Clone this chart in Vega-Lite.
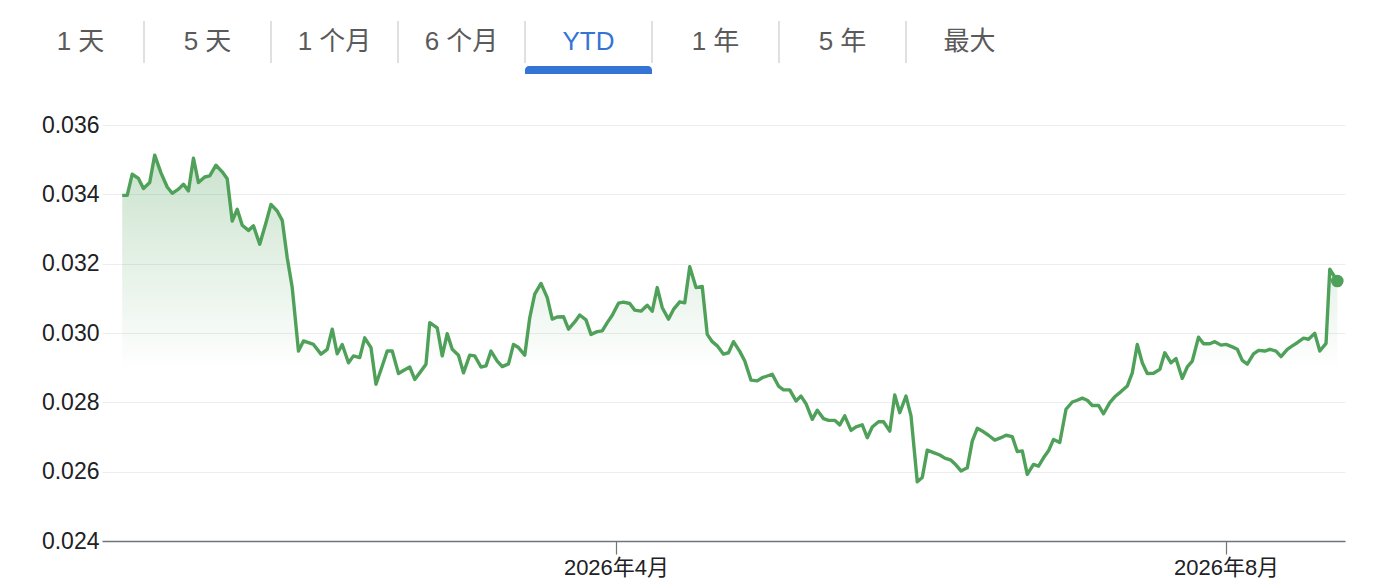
{
  "$schema": "https://vega.github.io/schema/vega-lite/v6.json",
  "background": "white",
  "padding": {"left": 12, "top": 20, "right": 31, "bottom": 4},
  "config": {
    "view": {"stroke": null},
    "font": "Liberation Sans, Noto Sans CJK SC"
  },
  "datasets": {
    "tabs": [
      {"tab": "1 天"}, {"tab": "5 天"}, {"tab": "1 个月"}, {"tab": "6 个月"},
      {"tab": "YTD"}, {"tab": "1 年"}, {"tab": "5 年"}, {"tab": "最大"}
    ],
    "rate": [
      {"date": "2025-12-23T06:00", "rate": 0.03397},
      {"date": "2025-12-24T06:00", "rate": 0.03397},
      {"date": "2025-12-25T06:00", "rate": 0.03458},
      {"date": "2025-12-26T12:00", "rate": 0.03446},
      {"date": "2025-12-27T12:00", "rate": 0.03417},
      {"date": "2025-12-28T18:00", "rate": 0.03434},
      {"date": "2025-12-29T18:00", "rate": 0.03513},
      {"date": "2025-12-31T00:00", "rate": 0.03462},
      {"date": "2026-01-01T06:00", "rate": 0.03421},
      {"date": "2026-01-02T06:00", "rate": 0.03403},
      {"date": "2026-01-03T12:00", "rate": 0.03415},
      {"date": "2026-01-04T12:00", "rate": 0.03429},
      {"date": "2026-01-05T12:00", "rate": 0.03410},
      {"date": "2026-01-06T12:00", "rate": 0.03504},
      {"date": "2026-01-07T12:00", "rate": 0.03434},
      {"date": "2026-01-08T18:00", "rate": 0.03450},
      {"date": "2026-01-09T18:00", "rate": 0.03453},
      {"date": "2026-01-11T00:00", "rate": 0.03484},
      {"date": "2026-01-12T06:00", "rate": 0.03465},
      {"date": "2026-01-13T06:00", "rate": 0.03445},
      {"date": "2026-01-14T06:00", "rate": 0.03323},
      {"date": "2026-01-15T06:00", "rate": 0.03357},
      {"date": "2026-01-16T06:00", "rate": 0.03311},
      {"date": "2026-01-17T12:00", "rate": 0.03296},
      {"date": "2026-01-18T12:00", "rate": 0.03309},
      {"date": "2026-01-19T18:00", "rate": 0.03256},
      {"date": "2026-01-21T00:00", "rate": 0.03318},
      {"date": "2026-01-22T00:00", "rate": 0.03371},
      {"date": "2026-01-23T06:00", "rate": 0.03352},
      {"date": "2026-01-24T06:00", "rate": 0.03325},
      {"date": "2026-01-25T06:00", "rate": 0.03217},
      {"date": "2026-01-26T06:00", "rate": 0.03131},
      {"date": "2026-01-27T12:00", "rate": 0.02948},
      {"date": "2026-01-28T12:00", "rate": 0.02977},
      {"date": "2026-01-29T12:00", "rate": 0.02972},
      {"date": "2026-01-30T12:00", "rate": 0.02967},
      {"date": "2026-02-01T00:00", "rate": 0.02939},
      {"date": "2026-02-02T06:00", "rate": 0.02953},
      {"date": "2026-02-03T06:00", "rate": 0.03011},
      {"date": "2026-02-04T06:00", "rate": 0.02940},
      {"date": "2026-02-05T06:00", "rate": 0.02967},
      {"date": "2026-02-06T12:00", "rate": 0.02914},
      {"date": "2026-02-07T12:00", "rate": 0.02934},
      {"date": "2026-02-08T18:00", "rate": 0.02929},
      {"date": "2026-02-09T18:00", "rate": 0.02986},
      {"date": "2026-02-11T00:00", "rate": 0.02958},
      {"date": "2026-02-12T00:00", "rate": 0.02852},
      {"date": "2026-02-13T06:00", "rate": 0.02905},
      {"date": "2026-02-14T06:00", "rate": 0.02948},
      {"date": "2026-02-15T06:00", "rate": 0.02948},
      {"date": "2026-02-16T12:00", "rate": 0.02883},
      {"date": "2026-02-17T12:00", "rate": 0.02892},
      {"date": "2026-02-18T18:00", "rate": 0.02902},
      {"date": "2026-02-19T18:00", "rate": 0.02866},
      {"date": "2026-02-21T00:00", "rate": 0.02890},
      {"date": "2026-02-22T00:00", "rate": 0.02910},
      {"date": "2026-02-22T18:00", "rate": 0.03030},
      {"date": "2026-02-24T06:00", "rate": 0.03015},
      {"date": "2026-02-25T06:00", "rate": 0.02934},
      {"date": "2026-02-26T06:00", "rate": 0.02998},
      {"date": "2026-02-27T06:00", "rate": 0.02953},
      {"date": "2026-02-28T12:00", "rate": 0.02936},
      {"date": "2026-03-01T12:00", "rate": 0.02885},
      {"date": "2026-03-02T18:00", "rate": 0.02936},
      {"date": "2026-03-03T18:00", "rate": 0.02934},
      {"date": "2026-03-05T00:00", "rate": 0.02902},
      {"date": "2026-03-06T00:00", "rate": 0.02905},
      {"date": "2026-03-07T00:00", "rate": 0.02948},
      {"date": "2026-03-08T06:00", "rate": 0.02919},
      {"date": "2026-03-09T06:00", "rate": 0.02903},
      {"date": "2026-03-10T12:00", "rate": 0.02911},
      {"date": "2026-03-11T12:00", "rate": 0.02967},
      {"date": "2026-03-12T12:00", "rate": 0.02958},
      {"date": "2026-03-13T18:00", "rate": 0.02936},
      {"date": "2026-03-14T18:00", "rate": 0.03044},
      {"date": "2026-03-15T18:00", "rate": 0.03112},
      {"date": "2026-03-17T00:00", "rate": 0.03143},
      {"date": "2026-03-18T06:00", "rate": 0.03102},
      {"date": "2026-03-19T06:00", "rate": 0.03040},
      {"date": "2026-03-20T06:00", "rate": 0.03046},
      {"date": "2026-03-21T12:00", "rate": 0.03047},
      {"date": "2026-03-22T12:00", "rate": 0.03011},
      {"date": "2026-03-23T18:00", "rate": 0.03032},
      {"date": "2026-03-24T18:00", "rate": 0.03052},
      {"date": "2026-03-26T00:00", "rate": 0.03038},
      {"date": "2026-03-27T00:00", "rate": 0.02996},
      {"date": "2026-03-28T06:00", "rate": 0.03004},
      {"date": "2026-03-29T06:00", "rate": 0.03006},
      {"date": "2026-03-30T06:00", "rate": 0.03030},
      {"date": "2026-03-31T06:00", "rate": 0.03051},
      {"date": "2026-04-01T12:00", "rate": 0.03086},
      {"date": "2026-04-02T12:00", "rate": 0.03089},
      {"date": "2026-04-03T18:00", "rate": 0.03085},
      {"date": "2026-04-04T18:00", "rate": 0.03066},
      {"date": "2026-04-06T00:00", "rate": 0.03063},
      {"date": "2026-04-07T06:00", "rate": 0.03080},
      {"date": "2026-04-08T06:00", "rate": 0.03063},
      {"date": "2026-04-09T06:00", "rate": 0.03131},
      {"date": "2026-04-10T06:00", "rate": 0.03073},
      {"date": "2026-04-11T12:00", "rate": 0.03040},
      {"date": "2026-04-12T12:00", "rate": 0.03068},
      {"date": "2026-04-13T18:00", "rate": 0.03090},
      {"date": "2026-04-14T18:00", "rate": 0.03087},
      {"date": "2026-04-15T18:00", "rate": 0.03191},
      {"date": "2026-04-17T00:00", "rate": 0.03131},
      {"date": "2026-04-18T06:00", "rate": 0.03134},
      {"date": "2026-04-19T06:00", "rate": 0.02996},
      {"date": "2026-04-20T06:00", "rate": 0.02975},
      {"date": "2026-04-21T06:00", "rate": 0.02963},
      {"date": "2026-04-22T12:00", "rate": 0.02939},
      {"date": "2026-04-23T12:00", "rate": 0.02943},
      {"date": "2026-04-24T12:00", "rate": 0.02975},
      {"date": "2026-04-25T18:00", "rate": 0.02947},
      {"date": "2026-04-26T18:00", "rate": 0.02919},
      {"date": "2026-04-28T00:00", "rate": 0.02864},
      {"date": "2026-04-29T06:00", "rate": 0.02862},
      {"date": "2026-04-30T06:00", "rate": 0.02871},
      {"date": "2026-05-01T06:00", "rate": 0.02876},
      {"date": "2026-05-02T06:00", "rate": 0.02881},
      {"date": "2026-05-03T12:00", "rate": 0.02847},
      {"date": "2026-05-04T12:00", "rate": 0.02836},
      {"date": "2026-05-05T18:00", "rate": 0.02836},
      {"date": "2026-05-07T00:00", "rate": 0.02804},
      {"date": "2026-05-08T00:00", "rate": 0.02818},
      {"date": "2026-05-09T00:00", "rate": 0.02796},
      {"date": "2026-05-10T06:00", "rate": 0.02751},
      {"date": "2026-05-11T06:00", "rate": 0.02777},
      {"date": "2026-05-12T12:00", "rate": 0.02753},
      {"date": "2026-05-13T12:00", "rate": 0.02748},
      {"date": "2026-05-14T18:00", "rate": 0.02748},
      {"date": "2026-05-15T18:00", "rate": 0.02735},
      {"date": "2026-05-16T18:00", "rate": 0.02761},
      {"date": "2026-05-18T00:00", "rate": 0.02719},
      {"date": "2026-05-19T00:00", "rate": 0.02729},
      {"date": "2026-05-20T06:00", "rate": 0.02735},
      {"date": "2026-05-21T06:00", "rate": 0.02698},
      {"date": "2026-05-22T06:00", "rate": 0.02729},
      {"date": "2026-05-23T12:00", "rate": 0.02744},
      {"date": "2026-05-24T12:00", "rate": 0.02744},
      {"date": "2026-05-25T18:00", "rate": 0.02717},
      {"date": "2026-05-26T18:00", "rate": 0.02821},
      {"date": "2026-05-27T18:00", "rate": 0.02770},
      {"date": "2026-05-29T00:00", "rate": 0.02818},
      {"date": "2026-05-30T00:00", "rate": 0.02761},
      {"date": "2026-05-31T06:00", "rate": 0.02571},
      {"date": "2026-06-01T06:00", "rate": 0.02583},
      {"date": "2026-06-02T06:00", "rate": 0.02662},
      {"date": "2026-06-03T12:00", "rate": 0.02655},
      {"date": "2026-06-04T18:00", "rate": 0.02648},
      {"date": "2026-06-05T18:00", "rate": 0.02639},
      {"date": "2026-06-07T00:00", "rate": 0.02633},
      {"date": "2026-06-08T00:00", "rate": 0.02619},
      {"date": "2026-06-09T00:00", "rate": 0.02602},
      {"date": "2026-06-10T06:00", "rate": 0.02611},
      {"date": "2026-06-11T06:00", "rate": 0.02688},
      {"date": "2026-06-12T06:00", "rate": 0.02725},
      {"date": "2026-06-13T12:00", "rate": 0.02715},
      {"date": "2026-06-14T12:00", "rate": 0.02705},
      {"date": "2026-06-15T18:00", "rate": 0.02691},
      {"date": "2026-06-17T00:00", "rate": 0.02698},
      {"date": "2026-06-18T00:00", "rate": 0.02705},
      {"date": "2026-06-19T06:00", "rate": 0.02701},
      {"date": "2026-06-20T06:00", "rate": 0.02658},
      {"date": "2026-06-21T06:00", "rate": 0.02660},
      {"date": "2026-06-22T06:00", "rate": 0.02592},
      {"date": "2026-06-23T12:00", "rate": 0.02621},
      {"date": "2026-06-24T12:00", "rate": 0.02616},
      {"date": "2026-06-25T12:00", "rate": 0.02640},
      {"date": "2026-06-26T12:00", "rate": 0.02660},
      {"date": "2026-06-27T12:00", "rate": 0.02693},
      {"date": "2026-06-28T18:00", "rate": 0.02684},
      {"date": "2026-06-30T00:00", "rate": 0.02780},
      {"date": "2026-07-01T06:00", "rate": 0.02801},
      {"date": "2026-07-02T06:00", "rate": 0.02806},
      {"date": "2026-07-03T06:00", "rate": 0.02812},
      {"date": "2026-07-04T06:00", "rate": 0.02806},
      {"date": "2026-07-05T06:00", "rate": 0.02791},
      {"date": "2026-07-06T12:00", "rate": 0.02791},
      {"date": "2026-07-07T12:00", "rate": 0.02767},
      {"date": "2026-07-08T18:00", "rate": 0.02799},
      {"date": "2026-07-09T18:00", "rate": 0.02816},
      {"date": "2026-07-11T00:00", "rate": 0.02831},
      {"date": "2026-07-12T06:00", "rate": 0.02847},
      {"date": "2026-07-13T06:00", "rate": 0.02885},
      {"date": "2026-07-14T06:00", "rate": 0.02967},
      {"date": "2026-07-15T06:00", "rate": 0.02914},
      {"date": "2026-07-16T06:00", "rate": 0.02883},
      {"date": "2026-07-17T12:00", "rate": 0.02884},
      {"date": "2026-07-18T18:00", "rate": 0.02895},
      {"date": "2026-07-19T18:00", "rate": 0.02943},
      {"date": "2026-07-21T00:00", "rate": 0.02914},
      {"date": "2026-07-22T00:00", "rate": 0.02926},
      {"date": "2026-07-23T06:00", "rate": 0.02869},
      {"date": "2026-07-24T06:00", "rate": 0.02902},
      {"date": "2026-07-25T06:00", "rate": 0.02919},
      {"date": "2026-07-26T12:00", "rate": 0.02988},
      {"date": "2026-07-27T12:00", "rate": 0.02969},
      {"date": "2026-07-28T18:00", "rate": 0.02969},
      {"date": "2026-07-29T18:00", "rate": 0.02975},
      {"date": "2026-07-31T00:00", "rate": 0.02965},
      {"date": "2026-08-01T00:00", "rate": 0.02967},
      {"date": "2026-08-02T06:00", "rate": 0.02960},
      {"date": "2026-08-03T06:00", "rate": 0.02953},
      {"date": "2026-08-04T06:00", "rate": 0.02921},
      {"date": "2026-08-05T06:00", "rate": 0.02910},
      {"date": "2026-08-06T12:00", "rate": 0.02940},
      {"date": "2026-08-07T12:00", "rate": 0.02950},
      {"date": "2026-08-08T18:00", "rate": 0.02948},
      {"date": "2026-08-09T18:00", "rate": 0.02953},
      {"date": "2026-08-11T00:00", "rate": 0.02948},
      {"date": "2026-08-12T00:00", "rate": 0.02932},
      {"date": "2026-08-13T06:00", "rate": 0.02953},
      {"date": "2026-08-14T06:00", "rate": 0.02963},
      {"date": "2026-08-15T06:00", "rate": 0.02972},
      {"date": "2026-08-16T12:00", "rate": 0.02985},
      {"date": "2026-08-17T12:00", "rate": 0.02982},
      {"date": "2026-08-18T18:00", "rate": 0.02999},
      {"date": "2026-08-19T18:00", "rate": 0.02948},
      {"date": "2026-08-21T00:00", "rate": 0.02970},
      {"date": "2026-08-21T18:00", "rate": 0.03184},
      {"date": "2026-08-23T06:00", "rate": 0.03150}
    ]
  },
  "spacing": 40,
  "vconcat": [
    {
      "spacing": 2,
      "vconcat": [
        {
          "width": 1011,
          "height": 42,
          "data": {"name": "tabs"},
          "layer": [
            {
              "transform": [{"filter": "datum.tab != '1 天'"}],
              "mark": {"type": "rule", "color": "#d6d6d6", "strokeWidth": 1.5},
              "encoding": {
                "x": {
                  "field": "tab", "type": "nominal", "bandPosition": 0,
                  "scale": {"type": "band", "domain": ["1 天", "5 天", "1 个月", "6 个月", "YTD", "1 年", "5 年", "最大"], "range": [-85, 931], "paddingInner": 0, "paddingOuter": 0},
                  "axis": null
                }
              }
            },
            {
              "mark": {"type": "text", "fontSize": 26, "baseline": "middle", "align": "center"},
              "encoding": {
                "x": {
                  "field": "tab", "type": "nominal",
                  "scale": {"type": "band", "domain": ["1 天", "5 天", "1 个月", "6 个月", "YTD", "1 年", "5 年", "最大"], "range": [-85, 931], "paddingInner": 0, "paddingOuter": 0},
                  "axis": null
                },
                "text": {"field": "tab"},
                "color": {"condition": {"test": "datum.tab == 'YTD'", "value": "#3474d4"}, "value": "#5a5a5a"}
              }
            }
          ]
        },
        {
          "width": 1011,
          "height": 8,
          "data": {"name": "tabs"},
          "transform": [{"filter": "datum.tab == 'YTD'"}],
          "mark": {"type": "bar", "color": "#3474d4", "cornerRadiusTopLeft": 7, "cornerRadiusTopRight": 7},
          "encoding": {
            "x": {
              "field": "tab", "type": "nominal",
              "scale": {"type": "band", "domain": ["1 天", "5 天", "1 个月", "6 个月", "YTD", "1 年", "5 年", "最大"], "range": [-85, 931], "paddingInner": 0, "paddingOuter": 0},
              "axis": null
            }
          }
        }
      ]
    },
    {
      "width": 1243,
      "height": 416,
      "data": {"name": "rate"},
      "encoding": {
        "x": {
          "field": "date", "type": "temporal", "title": null,
          "scale": {"domain": [{"year": 2025, "month": 12, "date": 19, "hours": 5}, {"year": 2026, "month": 8, "date": 24, "hours": 19}], "nice": false},
          "axis": {
            "values": [{"year": 2026, "month": 4, "date": 1}, {"year": 2026, "month": 8, "date": 1}],
            "format": "%Y年%-m月",
            "grid": false,
            "labelFontSize": 22,
            "labelColor": "#202124",
            "labelPadding": 3,
            "domainColor": "#70757a",
            "domainWidth": 1.5,
            "tickColor": "#70757a",
            "tickWidth": 1.2,
            "tickSize": 13
          }
        },
        "y": {
          "field": "rate", "type": "quantitative", "title": null,
          "scale": {"domain": [0.024, 0.036], "nice": false, "zero": false},
          "axis": {
            "values": [0.024, 0.026, 0.028, 0.030, 0.032, 0.034, 0.036],
            "format": ".3f",
            "labelFontSize": 23,
            "labelColor": "#202124",
            "labelPadding": 3,
            "ticks": false,
            "domain": false,
            "gridColor": "#ededed",
            "gridWidth": 1.2,
            "minExtent": 90
          }
        }
      },
      "layer": [
        {
          "mark": {
            "type": "area",
            "color": {
              "gradient": "linear", "x1": 0, "y1": 0, "x2": 0, "y2": 1,
              "stops": [
                {"offset": 0, "color": "rgba(78,161,90,0.3)"},
                {"offset": 0.56, "color": "rgba(78,161,90,0)"}
              ]
            }
          },
          "encoding": {"y2": {"datum": 0.024}}
        },
        {
          "mark": {"type": "line", "color": "#4fa15a", "strokeWidth": 3.4, "strokeJoin": "round"}
        },
        {
          "transform": [{"filter": {"field": "date", "equal": {"year": 2026, "month": 8, "date": 23, "hours": 6}}}],
          "mark": {"type": "point", "filled": true, "size": 160, "color": "#4fa15a", "opacity": 1}
        }
      ]
    }
  ]
}
